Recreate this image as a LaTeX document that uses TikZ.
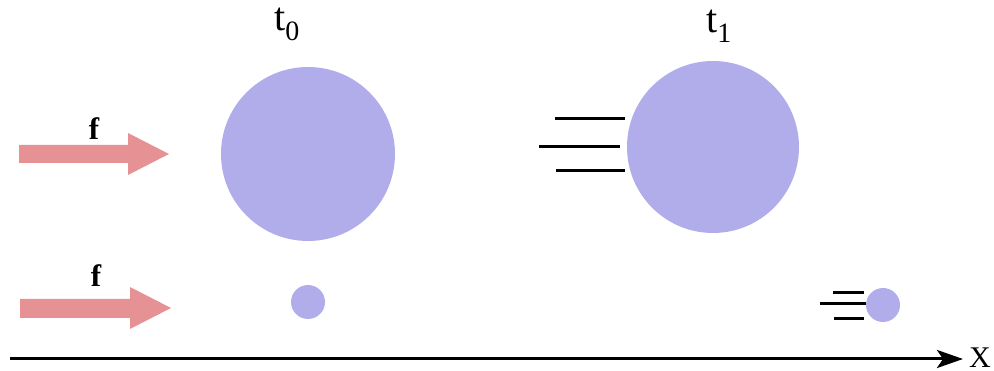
\documentclass[tikz,border=0pt]{standalone}
\usepackage{fontspec}
\setmainfont{Liberation Serif}
\usetikzlibrary{arrows.meta}
\definecolor{ball}{HTML}{B1ADEB}
\definecolor{force}{HTML}{E69294}
\begin{document}
\begin{tikzpicture}[x=1pt,y=-1pt,
  ballstyle/.style={circle,fill=ball,draw=none,inner sep=0pt},
  forcearrow/.style={fill=force,draw=none},
  speedline/.style={line width=3pt},
  lbl/.style={inner sep=0pt,font=\fontsize{30}{30}\selectfont}]
\useasboundingbox (0,0) rectangle (994,371);
% force arrows
\fill[forcearrow] (19,145) -- (128,145) -- (128,133) -- (169,154) -- (128,175) -- (128,163) -- (19,163) -- cycle;
\fill[forcearrow] (20,299) -- (130,299) -- (130,287) -- (171,308) -- (130,329) -- (130,318) -- (20,318) -- cycle;
\node[lbl,font=\fontsize{31}{31}\selectfont\bfseries] (f1) at (94,129) {f};
\node[lbl,font=\fontsize{31}{31}\selectfont\bfseries] (f2) at (96,276) {f};
% balls
\node[ballstyle,minimum size=174pt] (b0) at (308,154) {};
\node[ballstyle,minimum size=172pt] (b1) at (713,147) {};
\node[ballstyle,minimum size=34pt] (s0) at (308,302) {};
\node[ballstyle,minimum size=34pt] (s1) at (883,305) {};
% labels
\node[lbl,font=\fontsize{40}{40}\selectfont] (t0) at (287,24) {t\textsubscript{0}};
\node[lbl,font=\fontsize{40}{40}\selectfont] (t1) at (719,26) {t\textsubscript{1}};
% speed lines
\coordinate (l1a) at (555,119); \coordinate (l1b) at (625,119);
\coordinate (l2a) at (539,147); \coordinate (l2b) at (620,147);
\coordinate (l3a) at (556,171); \coordinate (l3b) at (625,171);
\draw[speedline] (l1a) -- (l1b);
\draw[speedline] (l2a) -- (l2b);
\draw[speedline] (l3a) -- (l3b);
\coordinate (m1a) at (833,293); \coordinate (m1b) at (864,293);
\coordinate (m2a) at (820,304); \coordinate (m2b) at (866,304);
\coordinate (m3a) at (834,319); \coordinate (m3b) at (864,319);
\draw[speedline] (m1a) -- (m1b);
\draw[speedline] (m2a) -- (m2b);
\draw[speedline] (m3a) -- (m3b);
% axis
\coordinate (ax0) at (10,359);
\node[lbl] (xl) at (980,358) {X};
\draw[line width=3pt,-{Stealth[length=26pt,width=18pt,inset=6pt]}] (ax0) -- (963,359);
\end{tikzpicture}
\end{document}
